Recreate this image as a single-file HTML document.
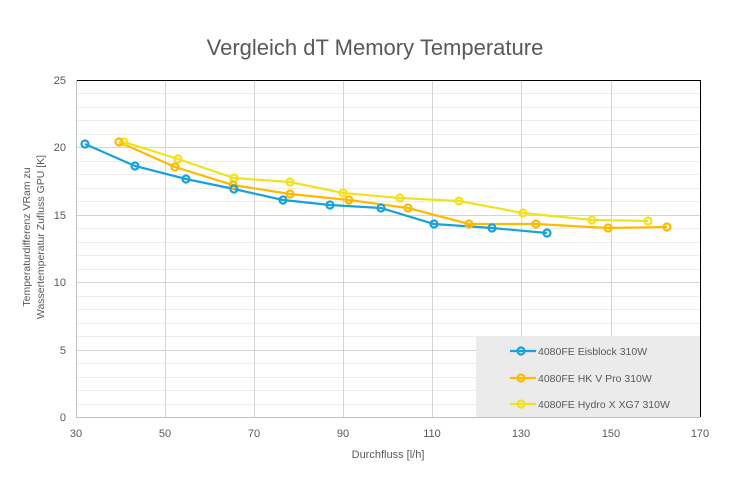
<!DOCTYPE html><html><head><style>body{margin:0;background:#fff}svg{display:block;font-family:"Liberation Sans",sans-serif}</style></head><body>
<svg width="755" height="491" viewBox="0 0 755 491">
<g stroke="#ececec" stroke-width="1">
<line x1="76" y1="93.5" x2="700" y2="93.5"/><line x1="76" y1="107.5" x2="700" y2="107.5"/><line x1="76" y1="120.5" x2="700" y2="120.5"/><line x1="76" y1="134.5" x2="700" y2="134.5"/>
<line x1="76" y1="161.5" x2="700" y2="161.5"/><line x1="76" y1="174.5" x2="700" y2="174.5"/><line x1="76" y1="188.5" x2="700" y2="188.5"/><line x1="76" y1="201.5" x2="700" y2="201.5"/>
<line x1="76" y1="228.5" x2="700" y2="228.5"/><line x1="76" y1="242.5" x2="700" y2="242.5"/><line x1="76" y1="255.5" x2="700" y2="255.5"/><line x1="76" y1="269.5" x2="700" y2="269.5"/>
<line x1="76" y1="296.5" x2="700" y2="296.5"/><line x1="76" y1="309.5" x2="700" y2="309.5"/><line x1="76" y1="323.5" x2="700" y2="323.5"/><line x1="76" y1="336.5" x2="700" y2="336.5"/>
<line x1="76" y1="363.5" x2="700" y2="363.5"/><line x1="76" y1="377.5" x2="700" y2="377.5"/><line x1="76" y1="390.5" x2="700" y2="390.5"/><line x1="76" y1="404.5" x2="700" y2="404.5"/>
</g>
<g stroke="#d4d4d4" stroke-width="1">
<line x1="76" y1="147.5" x2="700" y2="147.5"/><line x1="76" y1="215.5" x2="700" y2="215.5"/><line x1="76" y1="282.5" x2="700" y2="282.5"/><line x1="76" y1="350.5" x2="700" y2="350.5"/>
<line x1="165.5" y1="80" x2="165.5" y2="417"/><line x1="254.5" y1="80" x2="254.5" y2="417"/><line x1="343.5" y1="80" x2="343.5" y2="417"/><line x1="432.5" y1="80" x2="432.5" y2="417"/><line x1="521.5" y1="80" x2="521.5" y2="417"/><line x1="611.5" y1="80" x2="611.5" y2="417"/>
</g>
<line x1="76" y1="80.5" x2="700" y2="80.5" stroke="#000"/>
<line x1="700.5" y1="80" x2="700.5" y2="417" stroke="#000"/>
<line x1="76.5" y1="80" x2="76.5" y2="417" stroke="#bfbfbf"/>
<line x1="76" y1="417.5" x2="700" y2="417.5" stroke="#bfbfbf"/>
<rect x="476" y="337" width="224" height="80" fill="#ebebeb"/>
<g fill="none" stroke-width="2.2">
<polyline stroke="#f2e21e" points="124,142 178,159 234,178 290,182 343,193 400,198 459,201 523,213 592,220 648,221"/>
<polyline stroke="#ffb900" points="119,142 175,167 233,185 290,194 349,200 408,208 469,224 536,224 608,228 667,227"/>
<polyline stroke="#17a2db" points="85,144 135,166 186,179 234,189 283,200 330,205 381,208 434,224 492,228 547,233"/>
<g stroke="#f2e21e"><circle cx="124" cy="142" r="3.5"/><circle cx="178" cy="159" r="3.5"/><circle cx="234" cy="178" r="3.5"/><circle cx="290" cy="182" r="3.5"/><circle cx="343" cy="193" r="3.5"/><circle cx="400" cy="198" r="3.5"/><circle cx="459" cy="201" r="3.5"/><circle cx="523" cy="213" r="3.5"/><circle cx="592" cy="220" r="3.5"/><circle cx="648" cy="221" r="3.5"/></g>
<g stroke="#ffb900"><circle cx="119" cy="142" r="3.5"/><circle cx="175" cy="167" r="3.5"/><circle cx="233" cy="185" r="3.5"/><circle cx="290" cy="194" r="3.5"/><circle cx="349" cy="200" r="3.5"/><circle cx="408" cy="208" r="3.5"/><circle cx="469" cy="224" r="3.5"/><circle cx="536" cy="224" r="3.5"/><circle cx="608" cy="228" r="3.5"/><circle cx="667" cy="227" r="3.5"/></g>
<g stroke="#17a2db"><circle cx="85" cy="144" r="3.5"/><circle cx="135" cy="166" r="3.5"/><circle cx="186" cy="179" r="3.5"/><circle cx="234" cy="189" r="3.5"/><circle cx="283" cy="200" r="3.5"/><circle cx="330" cy="205" r="3.5"/><circle cx="381" cy="208" r="3.5"/><circle cx="434" cy="224" r="3.5"/><circle cx="492" cy="228" r="3.5"/><circle cx="547" cy="233" r="3.5"/></g>
<line x1="510" y1="351" x2="536" y2="351" stroke="#17a2db"/><circle cx="521" cy="351" r="3.5" stroke="#17a2db"/>
<line x1="510" y1="378" x2="536" y2="378" stroke="#ffb900"/><circle cx="521" cy="378" r="3.5" stroke="#ffb900"/>
<line x1="510" y1="404" x2="536" y2="404" stroke="#f2e21e"/><circle cx="521" cy="404" r="3.5" stroke="#f2e21e"/>
</g>
<g font-size="10.5" fill="#595959">
<text x="538" y="355">4080FE Eisblock 310W</text>
<text x="538" y="382">4080FE HK V Pro 310W</text>
<text x="538" y="408">4080FE Hydro X XG7 310W</text>
</g>
<text x="375" y="55" font-size="22" fill="#595959" text-anchor="middle">Vergleich dT Memory Temperature</text>
<g font-size="11" fill="#595959" text-anchor="end">
<text x="66" y="84">25</text><text x="66" y="151">20</text><text x="66" y="219">15</text><text x="66" y="286">10</text><text x="66" y="354">5</text><text x="66" y="421">0</text>
</g>
<g font-size="11" fill="#595959" text-anchor="middle">
<text x="76" y="437">30</text><text x="165" y="437">50</text><text x="254" y="437">70</text><text x="343" y="437">90</text><text x="432" y="437">110</text><text x="521" y="437">130</text><text x="611" y="437">150</text><text x="700" y="437">170</text>
<text x="388" y="458">Durchfluss [l/h]</text>
</g>
<g font-size="10.5" fill="#595959" text-anchor="middle">
<text transform="translate(30,237) rotate(-90)">Temperaturdifferenz VRam zu</text>
<text transform="translate(44,237) rotate(-90)">Wassertemperatur Zufluss GPU  [K]</text>
</g>
</svg></body></html>
